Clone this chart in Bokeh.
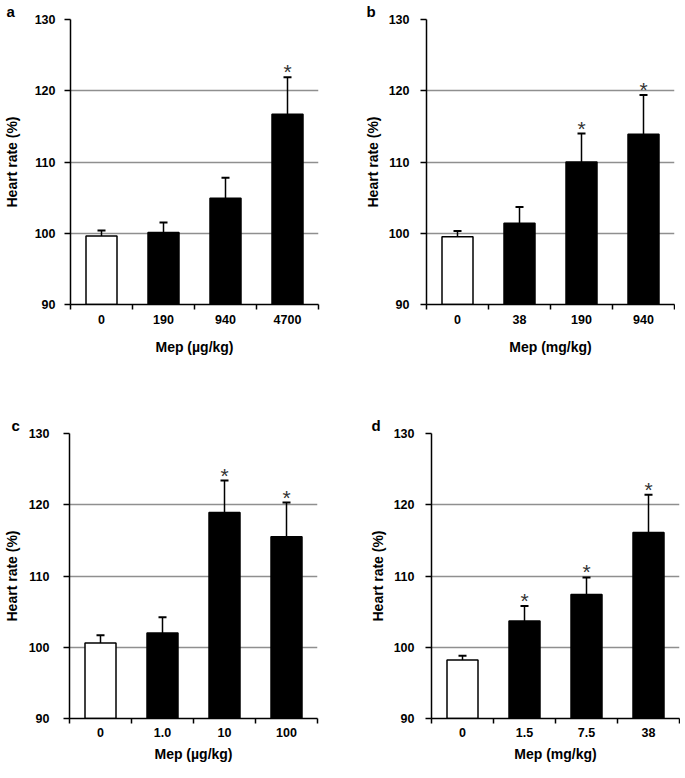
from bokeh.plotting import figure
from bokeh.models import ColumnDataSource, FixedTicker, Whisker, TeeHead, Range1d
from bokeh.layouts import row, column
from bokeh.core.properties import value
from bokeh.embed import file_html
from bokeh.resources import INLINE

# ---------------- data ----------------
y_title = "Heart rate (%)"
y_ticks = [90, 100, 110, 120, 130]

letters = ["a", "b", "c", "d"]
x_titles = ["Mep (µg/kg)", "Mep (mg/kg)", "Mep (µg/kg)", "Mep (mg/kg)"]

doses_a = ["0", "190", "940", "4700"]
mean_a = [99.6, 100.1, 104.9, 116.7]
sem_a = [0.8, 1.4, 2.9, 5.2]
sig_a = [False, False, False, True]

doses_b = ["0", "38", "190", "940"]
mean_b = [99.5, 101.4, 110.0, 113.9]
sem_b = [0.8, 2.3, 4.0, 5.5]
sig_b = [False, False, True, True]

doses_c = ["0", "1.0", "10", "100"]
mean_c = [100.6, 102.0, 118.9, 115.5]
sem_c = [1.1, 2.2, 4.5, 4.8]
sig_c = [False, False, True, True]

doses_d = ["0", "1.5", "7.5", "38"]
mean_d = [98.2, 103.7, 107.4, 116.1]
sem_d = [0.6, 2.1, 2.4, 5.3]
sig_d = [False, True, True, True]

FONT = "Liberation Sans"


def make_panel(letter, doses, means, sems, sig, xtitle, border, stand, title_off):
    n = len(doses)
    xs = [i + 0.5 for i in range(n)]
    upper = [m + s for m, s in zip(means, sems)]
    fills = ["white" if d == "0" else "black" for d in doses]
    src = ColumnDataSource(dict(x=xs, mean=means, upper=upper, fill=fills, dose=doses))

    p = figure(frame_width=248, frame_height=285,
               x_range=Range1d(0, n), y_range=Range1d(y_ticks[0], y_ticks[-1]),
               output_backend="svg", toolbar_location=None,
               min_border_left=border[0], min_border_right=border[1],
               min_border_top=border[2], min_border_bottom=border[3])
    p.outline_line_color = None
    p.background_fill_color = "white"
    p.border_fill_color = "white"

    # panel letter as title
    p.title.text = letter
    p.title.align = "left"
    p.title.offset = title_off
    p.title.standoff = 0
    p.title.text_font = FONT
    p.title.text_font_size = "15px"
    p.title.text_font_style = "bold"
    p.title.text_color = "black"

    base = y_ticks[0]
    p.vbar(x="x", top="mean", bottom=base, width=0.5, source=src,
           fill_color="fill", line_color="black", line_width=1.5)

    w = Whisker(source=src, base="x", upper="upper", lower="mean",
                dimension="height", line_color="black", line_width=1.5,
                upper_head=TeeHead(size=8, line_color="black", line_width=2),
                lower_head=None)
    p.add_layout(w)

    sx = [x for x, s in zip(xs, sig) if s]
    sy = [u for u, s in zip(upper, sig) if s]
    p.text(x=sx, y=sy, text=["*"] * len(sx), text_align="center",
           text_baseline="bottom", y_offset=6,
           text_font=value(FONT), text_font_size="21px", text_color="#333333")

    # axes
    p.xaxis.ticker = FixedTicker(ticks=xs, minor_ticks=list(range(n + 1)))
    p.xaxis.major_label_overrides = {x: d for x, d in zip(xs, doses)}
    p.xaxis.major_tick_out = 0
    p.xaxis.major_tick_in = 0
    p.xaxis.minor_tick_out = 5
    p.xaxis.minor_tick_in = 0
    p.xaxis.minor_tick_line_width = 1.5
    p.xaxis.major_label_standoff = stand[0]
    p.xaxis.axis_label = xtitle
    p.xaxis.axis_label_standoff = stand[1]

    p.yaxis.ticker = FixedTicker(ticks=y_ticks, minor_ticks=[])
    p.yaxis.major_tick_out = 6
    p.yaxis.major_tick_in = 0
    p.yaxis.major_tick_line_width = 1.5
    p.yaxis.major_label_standoff = stand[2]
    p.yaxis.axis_label = y_title
    p.yaxis.axis_label_standoff = stand[3]

    for ax in (p.xaxis[0], p.yaxis[0]):
        ax.axis_line_color = "black"
        ax.axis_line_width = 1.5
        ax.major_label_text_font = FONT
        ax.major_label_text_font_size = "12.5px"
        ax.major_label_text_font_style = "bold"
        ax.major_label_text_color = "black"
        ax.axis_label_text_font = FONT
        ax.axis_label_text_font_size = "14px"
        ax.axis_label_text_font_style = "bold"
        ax.axis_label_text_color = "black"

    p.xgrid.grid_line_color = None
    p.ygrid.grid_line_color = "#8f8f8f"
    p.ygrid.grid_line_width = 1.3
    p.ygrid.ticker = FixedTicker(ticks=y_ticks[1:])
    return p


pa = make_panel(letters[0], doses_a, mean_a, sem_a, sig_a, x_titles[0],
                (64, 24, 19, 87), (5, 12, 9, 12), -64)
pb = make_panel(letters[1], doses_b, mean_b, sem_b, sig_b, x_titles[1],
                (84, 1, 19, 87), (5, 12, 11, 5), -60)
pc = make_panel(letters[2], doses_c, mean_c, sem_c, sig_c, x_titles[2],
                (58, 30, 42, 42), (4, 6, 14, 6), -58)
pd = make_panel(letters[3], doses_d, mean_d, sem_d, sig_d, x_titles[3],
                (84, 1, 42, 42), (4, 6, 11, 5), -60)

layout = column(row(pa, pb, spacing=0), row(pc, pd, spacing=0), spacing=0)

open("out.html", "w").write(file_html(layout, INLINE))
